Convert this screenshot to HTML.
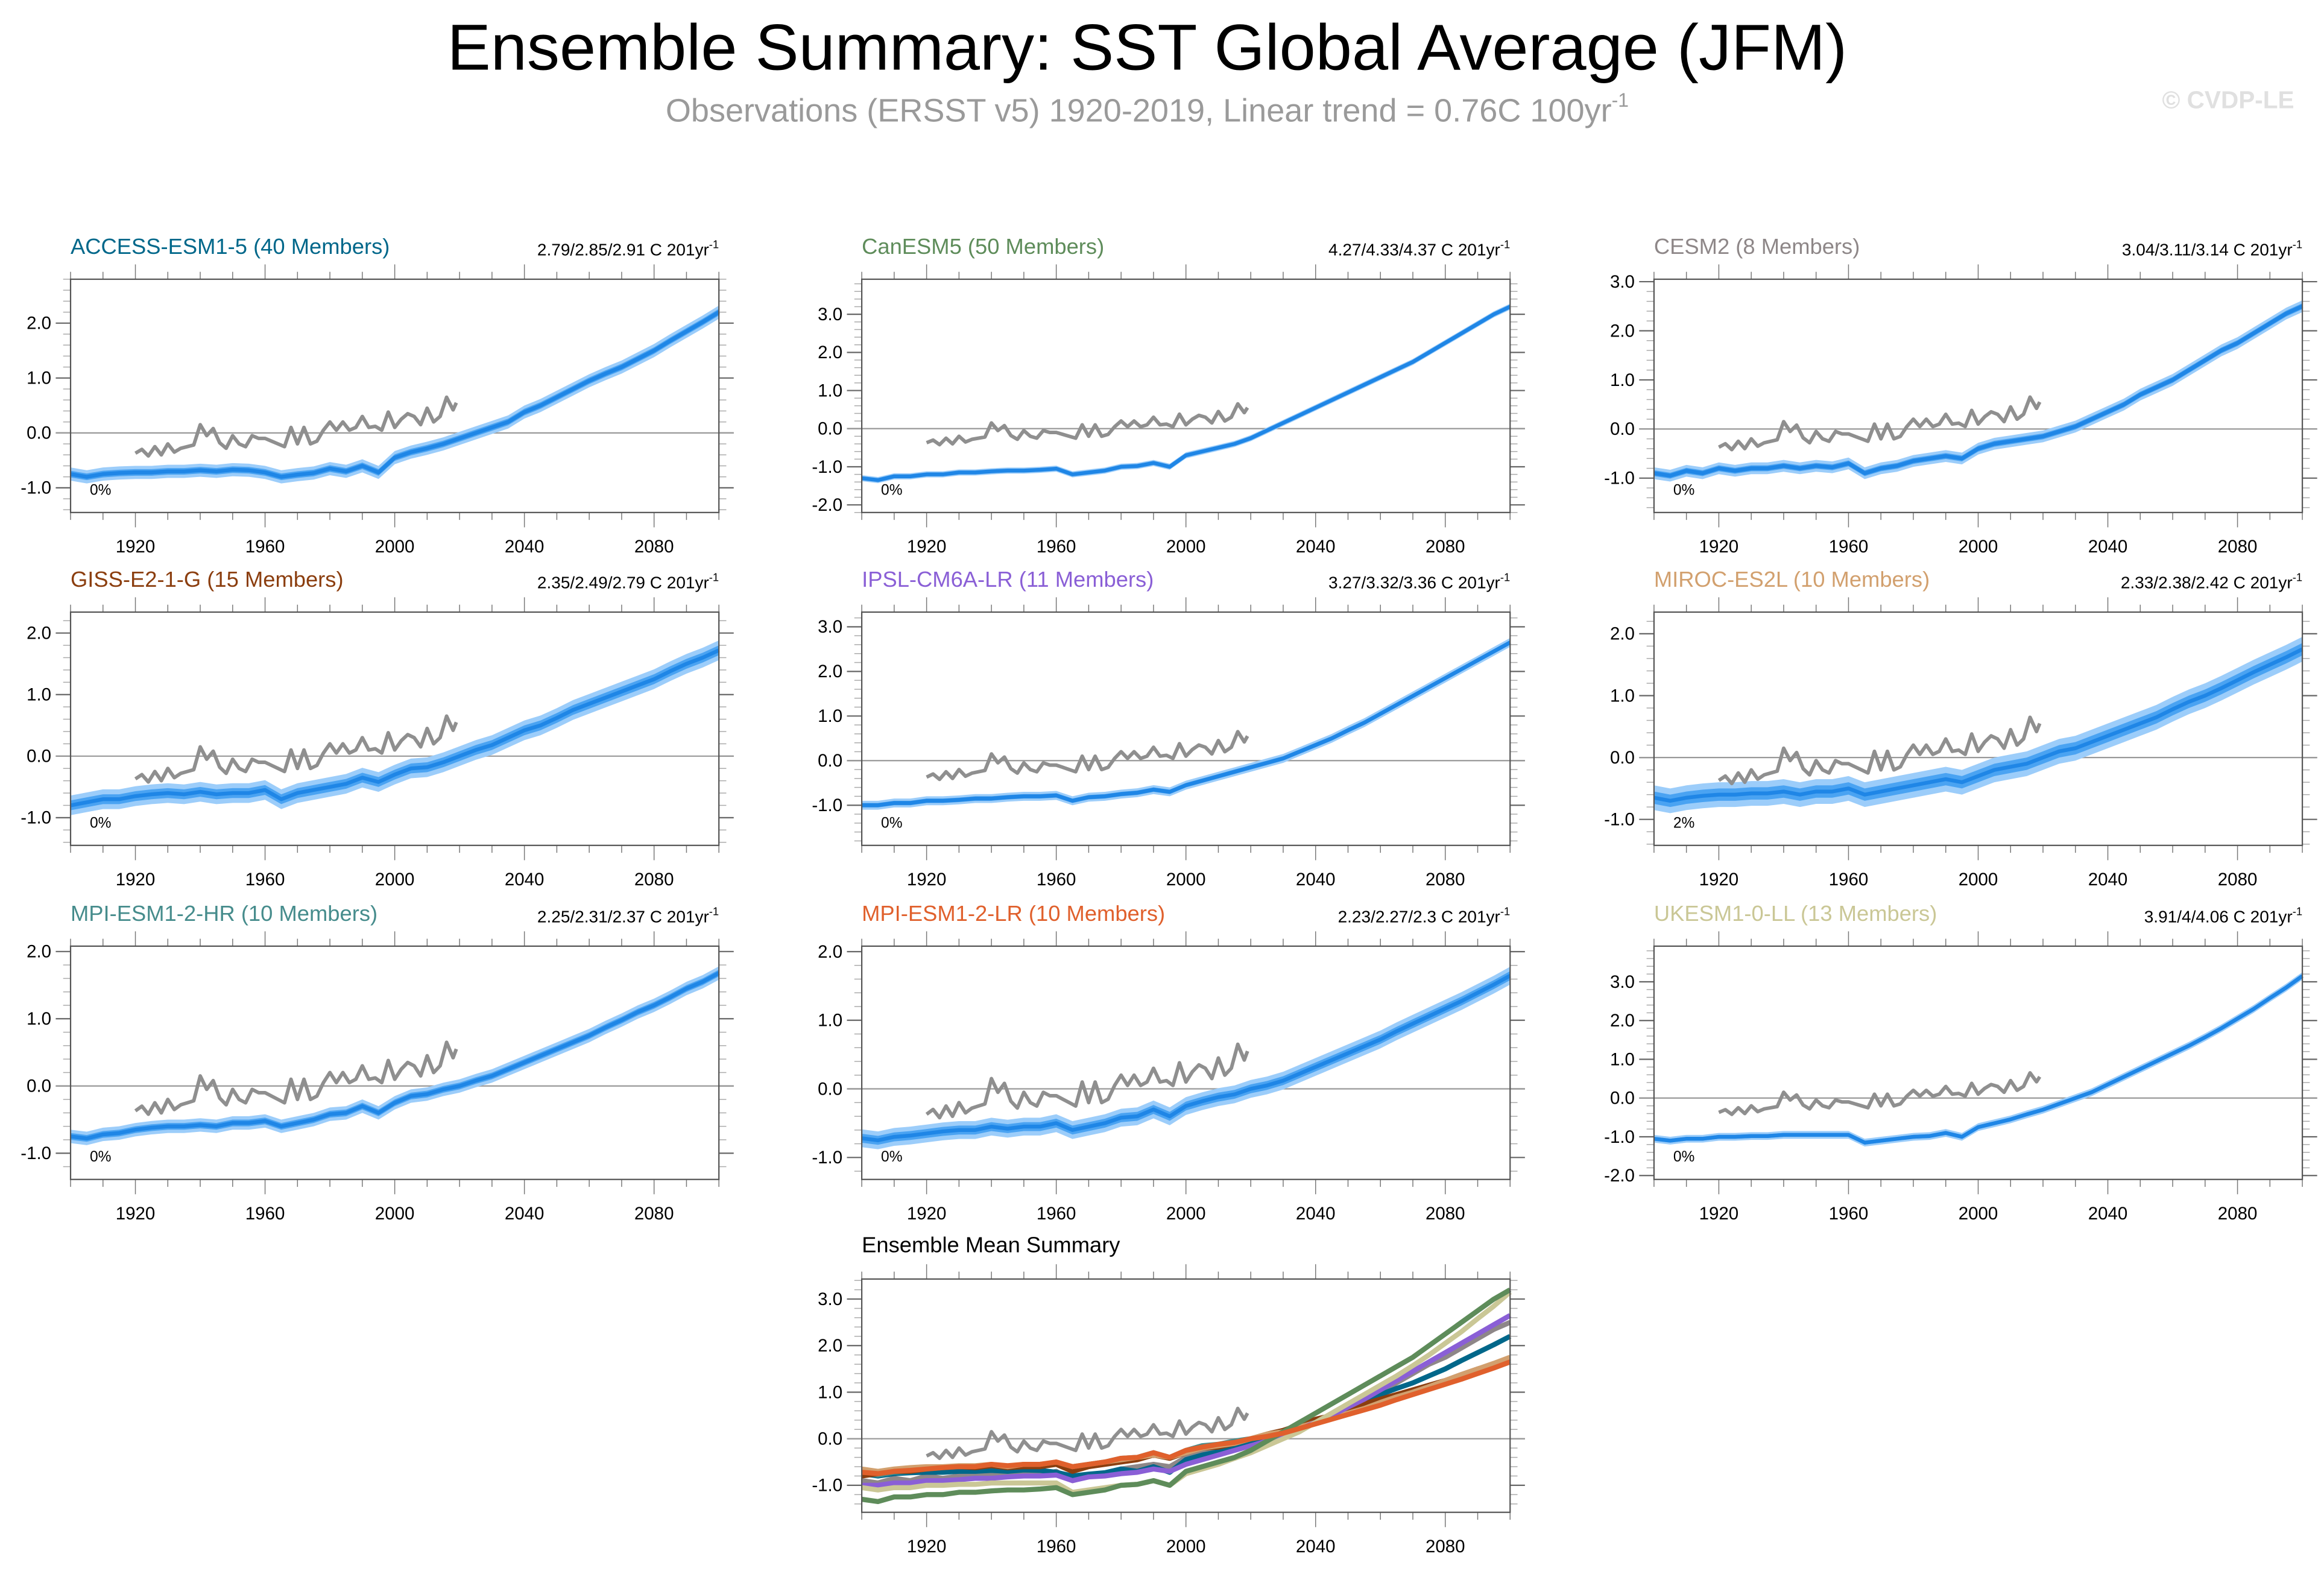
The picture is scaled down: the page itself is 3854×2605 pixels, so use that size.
<!DOCTYPE html>
<html><head><meta charset="utf-8">
<style>
html,body{margin:0;padding:0;background:#fff;}
svg{display:block;font-family:"Liberation Sans",Arial,sans-serif;}
</style></head>
<body>
<svg id="chart" width="3854" height="2605" viewBox="0 0 1568 1060" xmlns="http://www.w3.org/2000/svg">
<rect width="1568" height="1060" fill="#fff"/>
<text x="774" y="47" font-size="44" text-anchor="middle" fill="#000">Ensemble Summary: SST Global Average (JFM)</text>
<text x="774" y="82" font-size="22" text-anchor="middle" fill="#9a9a9a">Observations (ERSST v5) 1920-2019, Linear trend = 0.76C 100yr<tspan font-size="13" dy="-10">-1</tspan></text>
<text x="1548" y="73" font-size="16.5" font-weight="bold" text-anchor="end" fill="#e0e0e0">© CVDP-LE</text>
<g id="panels"></g>
</svg>
<script>
const years5 = [];
for (let y = 1900; y <= 2100; y += 5) years5.push(y);

const obsYears = [1920,1922,1924,1926,1928,1930,1932,1934,1936,1938,1940,1942,1944,1946,1948,1950,1952,1954,1956,1958,1960,1962,1964,1966,1968,1970,1972,1974,1976,1978,1980,1982,1984,1986,1988,1990,1992,1994,1996,1998,2000,2002,2004,2006,2008,2010,2012,2014,2016,2018,2019];
const obsValues = [-0.37,-0.3,-0.42,-0.25,-0.4,-0.2,-0.35,-0.28,-0.25,-0.22,0.15,-0.05,0.08,-0.18,-0.28,-0.05,-0.2,-0.25,-0.05,-0.1,-0.1,-0.15,-0.2,-0.25,0.1,-0.2,0.1,-0.2,-0.15,0.05,0.2,0.05,0.2,0.05,0.1,0.3,0.1,0.12,0.05,0.38,0.1,0.25,0.35,0.3,0.15,0.45,0.2,0.3,0.65,0.42,0.55];

const accessMean = [-0.75,-0.8,-0.75,-0.73,-0.72,-0.72,-0.7,-0.7,-0.68,-0.7,-0.67,-0.68,-0.72,-0.8,-0.76,-0.73,-0.65,-0.7,-0.6,-0.72,-0.45,-0.35,-0.28,-0.2,-0.1,0.0,0.1,0.2,0.38,0.5,0.65,0.8,0.95,1.08,1.2,1.35,1.5,1.68,1.85,2.02,2.2];
const canesmMean = [-1.3,-1.35,-1.25,-1.25,-1.2,-1.2,-1.15,-1.15,-1.12,-1.1,-1.1,-1.08,-1.05,-1.2,-1.15,-1.1,-1.0,-0.98,-0.9,-1.0,-0.7,-0.6,-0.5,-0.4,-0.25,-0.05,0.15,0.35,0.55,0.75,0.95,1.15,1.35,1.55,1.75,2.0,2.25,2.5,2.75,3.0,3.2];
const cesmMean = [-0.9,-0.95,-0.85,-0.9,-0.8,-0.85,-0.8,-0.8,-0.75,-0.8,-0.75,-0.78,-0.7,-0.9,-0.8,-0.75,-0.65,-0.6,-0.55,-0.6,-0.4,-0.3,-0.25,-0.2,-0.15,-0.05,0.05,0.2,0.35,0.5,0.7,0.85,1.0,1.2,1.4,1.6,1.75,1.95,2.15,2.35,2.5];
const gissMean = [-0.8,-0.75,-0.7,-0.7,-0.65,-0.62,-0.6,-0.62,-0.58,-0.62,-0.6,-0.6,-0.55,-0.7,-0.6,-0.55,-0.5,-0.45,-0.35,-0.42,-0.3,-0.2,-0.18,-0.1,0.0,0.1,0.18,0.3,0.42,0.5,0.62,0.75,0.85,0.95,1.05,1.15,1.25,1.38,1.5,1.6,1.72];
const ipslMean = [-1.0,-1.0,-0.95,-0.95,-0.9,-0.9,-0.88,-0.85,-0.85,-0.82,-0.8,-0.8,-0.78,-0.9,-0.82,-0.8,-0.75,-0.72,-0.65,-0.7,-0.55,-0.45,-0.35,-0.25,-0.15,-0.05,0.05,0.2,0.35,0.5,0.68,0.85,1.05,1.25,1.45,1.65,1.85,2.05,2.25,2.45,2.65];
const mirocMean = [-0.65,-0.7,-0.65,-0.62,-0.6,-0.6,-0.58,-0.58,-0.55,-0.6,-0.55,-0.55,-0.5,-0.6,-0.55,-0.5,-0.45,-0.4,-0.35,-0.4,-0.3,-0.2,-0.15,-0.1,0.0,0.1,0.15,0.25,0.35,0.45,0.55,0.65,0.78,0.9,1.0,1.12,1.25,1.38,1.5,1.62,1.75];
const mpihrMean = [-0.75,-0.78,-0.72,-0.7,-0.65,-0.62,-0.6,-0.6,-0.58,-0.6,-0.55,-0.55,-0.52,-0.6,-0.55,-0.5,-0.42,-0.4,-0.3,-0.4,-0.25,-0.15,-0.12,-0.05,0.0,0.08,0.15,0.25,0.35,0.45,0.55,0.65,0.75,0.87,0.98,1.1,1.2,1.32,1.45,1.55,1.68];
const mpilrMean = [-0.72,-0.75,-0.7,-0.68,-0.65,-0.62,-0.6,-0.6,-0.55,-0.58,-0.55,-0.55,-0.5,-0.6,-0.55,-0.5,-0.42,-0.4,-0.3,-0.4,-0.25,-0.18,-0.12,-0.08,0.0,0.05,0.12,0.22,0.32,0.42,0.52,0.62,0.72,0.84,0.95,1.06,1.17,1.28,1.4,1.52,1.65];
const ukesmMean = [-1.05,-1.1,-1.05,-1.05,-1.0,-1.0,-0.98,-0.98,-0.95,-0.95,-0.95,-0.95,-0.95,-1.15,-1.1,-1.05,-1.0,-0.98,-0.9,-1.0,-0.75,-0.65,-0.55,-0.42,-0.3,-0.15,0.0,0.15,0.35,0.55,0.75,0.95,1.15,1.35,1.57,1.8,2.05,2.3,2.58,2.85,3.15];

const modelNames = ["ACCESS-ESM1-5 (40 Members)","CanESM5 (50 Members)","CESM2 (8 Members)","GISS-E2-1-G (15 Members)","IPSL-CM6A-LR (11 Members)","MIROC-ES2L (10 Members)","MPI-ESM1-2-HR (10 Members)","MPI-ESM1-2-LR (10 Members)","UKESM1-0-LL (13 Members)"];
const trendTexts = ["2.79/2.85/2.91 C 201yr","4.27/4.33/4.37 C 201yr","3.04/3.11/3.14 C 201yr","2.35/2.49/2.79 C 201yr","3.27/3.32/3.36 C 201yr","2.33/2.38/2.42 C 201yr","2.25/2.31/2.37 C 201yr","2.23/2.27/2.3 C 201yr","3.91/4/4.06 C 201yr"];
const pctTexts = ["0%","0%","0%","0%","0%","2%","0%","0%","0%"];
const spreads = [0.12,0.08,0.12,0.16,0.1,0.2,0.1,0.13,0.1];
const yMins = [-1.45,-2.2,-1.7,-1.45,-1.9,-1.42,-1.39,-1.32,-2.1];
const yMaxs = [2.8,3.92,3.05,2.34,3.33,2.35,2.08,2.08,3.92];
const modelSeries = [accessMean,canesmMean,cesmMean,gissMean,ipslMean,mirocMean,mpihrMean,mpilrMean,ukesmMean];
const modelColors = ["#00678a","#5e8c5a","#8e8788","#8b3e0f","#8a5fd6","#d2a06e","#468c8c","#e0602c","#cac796"];
const summaryYMin = -1.58, summaryYMax = 3.43;

const NS = "http://www.w3.org/2000/svg";
const root = document.getElementById("panels");
function mk(tag, attrs, parent) {
  const e = document.createElementNS(NS, tag);
  for (const k in attrs) e.setAttribute(k, attrs[k]);
  (parent || root).appendChild(e);
  return e;
}
const colX = [47.5, 581.4, 1116];
const rowY = [188.4, 413, 638.4, 863];
const PW = 437.5, PH = 157.4;

function drawAxes(g, x0, y0, ymin, ymax) {
  const sx = yr => x0 + (yr - 1900) / 200 * PW;
  const sy = v => y0 + PH - (v - ymin) / (ymax - ymin) * PH;
  for (let yr = 1900; yr <= 2100; yr += 10) {
    const major = (yr - 1920) % 40 === 0;
    const L = major ? 10 : 5;
    const X = sx(yr);
    const t1 = mk("line", {x1:X,x2:X,y1:y0,y2:y0-L,stroke:"#777","stroke-width":0.6}, g);
    
    
    const t2 = mk("line", {x1:X,x2:X,y1:y0+PH,y2:y0+PH+L,stroke:"#777","stroke-width":0.6}, g);
    
    
    if (major) {
      const lb = mk("text", {x:X,y:y0+PH+27,"font-size":12,"text-anchor":"middle",fill:"#000"}, g);
      lb.textContent = yr;
      
      
    }
  }
  const start = Math.ceil(ymin * 5 - 1e-6);
  for (let k = start; k / 5 <= ymax + 1e-6; k++) {
    const v = k / 5;
    const major = k % 5 === 0;
    const L = major ? 10 : 5;
    const Y = sy(v);
    const a = mk("line", {x1:x0,x2:x0-L,y1:Y,y2:Y,stroke:major?"#666":"#aaa","stroke-width":major?0.9:0.6}, g);
    
    
    const b = mk("line", {x1:x0+PW,x2:x0+PW+L,y1:Y,y2:Y,stroke:major?"#666":"#aaa","stroke-width":major?0.9:0.6}, g);
    
    
    if (major) {
      const lb = mk("text", {x:x0-13,y:Y+4,"font-size":12,"text-anchor":"end",fill:"#000"}, g);
      lb.textContent = v.toFixed(1);
      
      
    }
  }
  const z = mk("line", {x1:x0-10,x2:x0+PW+10,y1:sy(0),y2:sy(0),stroke:"#999","stroke-width":0.9}, g);
  
  
  return {sx, sy};
}
function pathFrom(xs, ys, sx, sy) {
  return xs.map((x, i) => (i ? "L" : "M") + sx(x).toFixed(2) + "," + sy(ys[i]).toFixed(2)).join("");
}
function bandPath(xs, ys, d, sx, sy) {
  let p = xs.map((x, i) => (i ? "L" : "M") + sx(x).toFixed(2) + "," + sy(ys[i] + d).toFixed(2)).join("");
  for (let i = xs.length - 1; i >= 0; i--) p += "L" + sx(xs[i]).toFixed(2) + "," + sy(ys[i] - d).toFixed(2);
  return p + "Z";
}
function drawFrame(g, x0, y0) {
  const f = mk("rect", {x:x0,y:y0,width:PW,height:PH,fill:"none",stroke:"#555","stroke-width":0.9}, g);
  
  
}

for (let i = 0; i < 9; i++) {
  const x0 = colX[i % 3], y0 = rowY[Math.floor(i / 3)];
  const g = mk("g", {});
  
  
  const t = mk("text", {x:x0,y:y0-17,"font-size":14.8,fill:modelColors[i]}, g);
  t.textContent = modelNames[i];
  
  
  const tr = mk("text", {x:x0+PW,y:y0-16,"font-size":11.4,"text-anchor":"end",fill:"#000"}, g);
  tr.textContent = trendTexts[i];
  const sup = mk("tspan", {"font-size":7.5,dy:-5}, tr);
  sup.textContent = "-1";
  
  
  const ax = drawAxes(g, x0, y0, yMins[i], yMaxs[i]);
  const light = mk("path", {d:bandPath(years5, modelSeries[i], spreads[i], ax.sx, ax.sy), fill:"#9ccdfa"}, g);
  
  
  const dark = mk("path", {d:bandPath(years5, modelSeries[i], spreads[i] * 0.5, ax.sx, ax.sy), fill:"#4aa3f2"}, g);
  
  
  const m = mk("path", {d:pathFrom(years5, modelSeries[i], ax.sx, ax.sy), fill:"none", stroke:"#1f86e6", "stroke-width":2.6, "stroke-linejoin":"round"}, g);
  
  
  const o = mk("path", {d:pathFrom(obsYears, obsValues, ax.sx, ax.sy), fill:"none", stroke:"#8f8f8f", "stroke-width":2.4, "stroke-linejoin":"round"}, g);
  
  
  const p = mk("text", {x:x0+13,y:y0+PH-12,"font-size":10,fill:"#000"}, g);
  p.textContent = pctTexts[i];
  
  
  drawFrame(g, x0, y0);
}

(function(){
  const x0 = colX[1], y0 = rowY[3];
  const g = mk("g", {});
  
  
  const t = mk("text", {x:x0,y:y0-18,"font-size":14.8,fill:"#000"}, g);
  t.textContent = "Ensemble Mean Summary";
  
  
  const ax = drawAxes(g, x0, y0, summaryYMin, summaryYMax);
  const order = [2,0,6,3,5,4,8,1,7];
  order.forEach(i => {
    const l = mk("path", {d:pathFrom(years5, modelSeries[i], ax.sx, ax.sy), fill:"none", stroke:modelColors[i], "stroke-width":3.4, "stroke-linejoin":"round"}, g);
    
    
  });
  const o = mk("path", {d:pathFrom(obsYears, obsValues, ax.sx, ax.sy), fill:"none", stroke:"#8f8f8f", "stroke-width":2.4, "stroke-linejoin":"round"}, g);
  
  
  drawFrame(g, x0, y0);
})();
</script>
</body></html>
